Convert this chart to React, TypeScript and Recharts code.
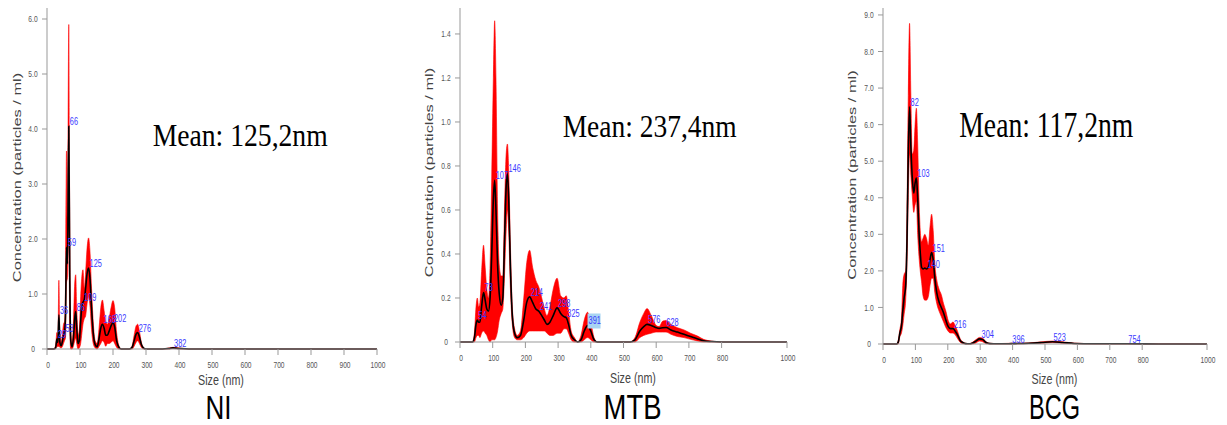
import React from "react";
import { Area, ComposedChart, Line, Scatter, XAxis, YAxis } from "recharts";

// size axis (nm), shared by all three panels
const sizeTicks = [0, 100, 200, 300, 400, 500, 600, 700, 800, 900, 1000];

// NI
const niSize = [0, 20, 26, 30, 33, 36, 39, 43, 47, 50, 53, 56, 59, 62, 66, 69, 72, 76, 80, 84, 87, 90, 94, 98, 102, 106, 109, 113, 117, 121, 126, 130, 135, 140, 146, 152, 158, 163, 168, 173, 178, 183, 188, 194, 200, 205, 211, 218, 225, 250, 258, 264, 270, 275, 280, 286, 292, 300, 350, 370, 382, 400, 430, 600, 800, 1000];
const niMean = [0, 0, 0.02, 0.18, 0.12, 0.62, 0.12, 0.06, 0.15, 0.25, 0.3, 0.6, 1.85, 1.55, 4.05, 1.3, 0.15, 0.04, 0.2, 0.55, 0.68, 0.4, 0.1, 0.15, 0.5, 0.8, 0.85, 0.9, 1.1, 1.35, 1.47, 1.3, 0.75, 0.3, 0.08, 0.04, 0.2, 0.38, 0.45, 0.38, 0.25, 0.25, 0.32, 0.42, 0.48, 0.4, 0.15, 0.03, 0, 0, 0.03, 0.15, 0.27, 0.3, 0.22, 0.08, 0.02, 0, 0, 0.01, 0.02, 0.01, 0, 0, 0, 0];
const niLow = [0, 0, 0, 0.05, 0.04, 0.05, 0.03, 0.02, 0.05, 0.1, 0.15, 0.2, 1.2, 1.3, 2.2, 0.4, 0, 0, 0.05, 0.15, 0.2, 0.1, 0, 0.02, 0.1, 0.3, 0.45, 0.55, 0.6, 0.8, 0.95, 0.8, 0.35, 0.1, 0.02, 0, 0.05, 0.1, 0.15, 0.12, 0.05, 0.1, 0.1, 0.12, 0.15, 0.1, 0.03, 0, 0, 0, 0, 0.05, 0.12, 0.15, 0.1, 0.03, 0, 0, 0, 0, 0.01, 0, 0, 0, 0, 0];
const niHigh = [0, 0, 0.06, 0.3, 0.2, 1.25, 0.3, 0.12, 0.3, 0.45, 0.5, 1.1, 3.6, 2.4, 5.9, 2.2, 0.35, 0.1, 0.45, 1.2, 1.35, 0.8, 0.25, 0.35, 0.95, 1.35, 1.44, 1.1, 1.4, 1.8, 2.02, 1.8, 1.1, 0.5, 0.15, 0.1, 0.4, 0.75, 0.89, 0.7, 0.5, 0.45, 0.55, 0.75, 0.88, 0.75, 0.3, 0.06, 0, 0, 0.06, 0.25, 0.42, 0.45, 0.33, 0.12, 0.03, 0, 0, 0.02, 0.03, 0.02, 0, 0, 0, 0];
const niTicks = [0, 1, 2, 3, 4, 5, 6];
const niPeaks = [
  { size: 30, mean: 0.18, label: "29" },
  { size: 36, mean: 0.62, label: "36" },
  { size: 53, mean: 0.3, label: "53" },
  { size: 60, mean: 1.85, label: "59" },
  { size: 66, mean: 4.05, label: "66" },
  { size: 87, mean: 0.68, label: "86" },
  { size: 109, mean: 0.85, label: "109" },
  { size: 126, mean: 1.47, label: "125" },
  { size: 168, mean: 0.45, label: "168" },
  { size: 200, mean: 0.48, label: "202" },
  { size: 275, mean: 0.3, label: "276" },
  { size: 382, mean: 0.02, label: "382" },
];

// MTB
const mtbSize = [0, 38, 44, 49, 53, 57, 61, 66, 72, 77, 82, 87, 92, 97, 102, 106, 110, 115, 120, 126, 131, 136, 141, 145, 149, 154, 160, 167, 175, 185, 195, 204, 213, 222, 232, 241, 250, 258, 266, 275, 285, 297, 308, 318, 325, 332, 340, 350, 360, 370, 380, 390, 400, 410, 420, 520, 535, 550, 562, 572, 585, 600, 609, 620, 630, 645, 665, 685, 705, 725, 745, 770, 800, 1000];
const mtbMean = [0, 0, 0.02, 0.08, 0.1, 0.09, 0.09, 0.16, 0.225, 0.19, 0.15, 0.14, 0.2, 0.4, 0.65, 0.735, 0.6, 0.35, 0.22, 0.167, 0.2, 0.45, 0.7, 0.766, 0.65, 0.35, 0.12, 0.04, 0.02, 0.03, 0.1, 0.18, 0.205, 0.18, 0.15, 0.14, 0.12, 0.1, 0.08, 0.09, 0.12, 0.155, 0.13, 0.115, 0.11, 0.08, 0.03, 0.01, 0, 0.01, 0.05, 0.075, 0.05, 0.01, 0, 0, 0.01, 0.05, 0.07, 0.08, 0.075, 0.065, 0.062, 0.065, 0.066, 0.055, 0.045, 0.035, 0.025, 0.015, 0.006, 0.002, 0, 0];
const mtbLow = [0, 0, 0, 0.02, 0.03, 0.03, 0.02, 0.04, 0.05, 0.04, 0.03, 0.01, 0, 0.01, 0.01, 0.01, 0.02, 0.05, 0.1, 0.13, 0.15, 0.3, 0.5, 0.6, 0.5, 0.25, 0.08, 0.02, 0.01, 0.01, 0.02, 0.04, 0.05, 0.05, 0.05, 0.05, 0.05, 0.05, 0.04, 0.03, 0.03, 0.04, 0.04, 0.06, 0.06, 0.04, 0.01, 0, 0, 0, 0.01, 0.02, 0.01, 0, 0, 0, 0, 0.02, 0.03, 0.035, 0.04, 0.045, 0.045, 0.045, 0.045, 0.035, 0.025, 0.02, 0.012, 0.005, 0, 0, 0, 0];
const mtbHigh = [0, 0, 0.04, 0.16, 0.2, 0.16, 0.18, 0.32, 0.44, 0.34, 0.24, 0.2, 0.35, 0.75, 1.2, 1.46, 1.2, 0.6, 0.35, 0.3, 0.3, 0.6, 0.85, 0.9, 0.78, 0.45, 0.16, 0.06, 0.03, 0.05, 0.2, 0.36, 0.417, 0.34, 0.28, 0.25, 0.2, 0.15, 0.12, 0.16, 0.24, 0.29, 0.21, 0.2, 0.21, 0.14, 0.05, 0.02, 0, 0.03, 0.1, 0.135, 0.09, 0.02, 0, 0, 0.02, 0.09, 0.13, 0.152, 0.12, 0.075, 0.07, 0.095, 0.098, 0.08, 0.065, 0.055, 0.04, 0.028, 0.012, 0.004, 0, 0];
const mtbTicks = [0, 0.2, 0.4, 0.6, 0.8, 1.0, 1.2, 1.4];
const mtbPeaks = [
  { size: 53, mean: 0.1, label: "54" },
  { size: 72, mean: 0.225, label: "73" },
  { size: 106, mean: 0.735, label: "107" },
  { size: 145, mean: 0.766, label: "146" },
  { size: 213, mean: 0.205, label: "214" },
  { size: 241, mean: 0.14, label: "241" },
  { size: 297, mean: 0.155, label: "298" },
  { size: 325, mean: 0.11, label: "325" },
  { size: 390, mean: 0.075, label: "391" },
  { size: 572, mean: 0.08, label: "576" },
  { size: 628, mean: 0.066, label: "628" },
];
const mtbSelected = "391";

// BCG
const bcgSize = [0, 42, 47, 52, 57, 61, 65, 70, 74, 78, 82, 86, 90, 95, 99, 103, 107, 111, 115, 119, 124, 129, 134, 140, 145, 150, 155, 160, 166, 173, 180, 187, 194, 201, 208, 216, 223, 230, 238, 246, 255, 265, 275, 287, 298, 308, 318, 330, 350, 396, 450, 490, 523, 555, 590, 650, 754, 850, 1000];
const bcgMean = [0, 0, 0.05, 0.3, 0.5, 0.9, 1.25, 1.6, 2.8, 5.2, 6.49, 5.4, 4.6, 4.13, 4.4, 4.54, 4.0, 3.1, 2.5, 2.1, 2.05, 2.08, 2.05, 2.1, 2.3, 2.5, 2.3, 1.8, 1.4, 1.15, 1.0, 0.85, 0.65, 0.48, 0.42, 0.42, 0.35, 0.25, 0.1, 0.04, 0.01, 0.005, 0.02, 0.08, 0.14, 0.12, 0.04, 0.01, 0.005, 0.01, 0.02, 0.04, 0.06, 0.04, 0.015, 0.005, 0.005, 0.002, 0];
const bcgLow = [0, 0, 0, 0.2, 0.3, 0.5, 0.8, 1.2, 2.2, 4.0, 5.2, 4.6, 4.1, 3.6, 3.8, 3.9, 3.0, 2.4, 2.0, 1.7, 1.3, 1.2, 1.2, 1.3, 1.6, 1.8, 1.8, 1.4, 1.1, 0.9, 0.75, 0.6, 0.45, 0.35, 0.3, 0.3, 0.25, 0.15, 0.05, 0.01, 0, 0, 0, 0.03, 0.08, 0.06, 0.01, 0, 0, 0, 0.01, 0.02, 0.04, 0.02, 0.005, 0, 0, 0, 0];
const bcgHigh = [0, 0, 0.1, 0.4, 0.7, 1.6, 1.9, 2.0, 3.6, 6.8, 8.77, 6.8, 5.2, 5.3, 6.0, 6.45, 5.5, 4.0, 3.1, 2.8, 2.9, 3.0, 2.9, 2.7, 3.2, 3.55, 3.1, 2.2, 1.75, 1.5, 1.35, 1.1, 0.9, 0.65, 0.55, 0.6, 0.5, 0.35, 0.15, 0.06, 0.02, 0.01, 0.04, 0.12, 0.18, 0.16, 0.06, 0.02, 0.01, 0.02, 0.03, 0.06, 0.08, 0.06, 0.025, 0.01, 0.01, 0.004, 0];
const bcgTicks = [0, 1, 2, 3, 4, 5, 6, 7, 8, 9];
const bcgPeaks = [
  { size: 82, mean: 6.49, label: "82" },
  { size: 103, mean: 4.54, label: "103" },
  { size: 134, mean: 2.05, label: "140" },
  { size: 150, mean: 2.5, label: "151" },
  { size: 216, mean: 0.42, label: "216" },
  { size: 301, mean: 0.14, label: "304" },
  { size: 396, mean: 0.01, label: "396" },
  { size: 523, mean: 0.06, label: "523" },
  { size: 754, mean: 0.005, label: "754" },
];

const SQ = 0.74;
const SANS = "'Liberation Sans', Arial, sans-serif";
const SERIF = "'Liberation Serif', 'Times New Roman', serif";

function buildRows(size: number[], mean: number[], low: number[], high: number[]) {
  return size.map((s, i) => ({ size: s, mean: mean[i], band: [low[i], high[i]] }));
}

const fmtY = (v: number) => (v === 0 ? "0" : v.toFixed(1));

function YTick(props: any) {
  const { x, y, payload } = props;
  return (
    <text transform={`translate(${x - 7},${y}) scale(${SQ},1)`} textAnchor="middle" dy="0.35em" fontSize={9} fontFamily={SANS} fill="#555">
      {fmtY(payload.value)}
    </text>
  );
}

function XTick(props: any) {
  const { x, y, payload } = props;
  return (
    <text transform={`translate(${x + 1},${y}) scale(${SQ},1)`} textAnchor="middle" dy="0.71em" fontSize={9} fontFamily={SANS} fill="#555">
      {payload.value}
    </text>
  );
}

type PanelProps = {
  left: number;
  width: number;
  axisW: number;
  right: number;
  bottom: number;
  yMax: number;
  yTicks: number[];
  rows: any[];
  peaks: { size: number; mean: number; label: string }[];
  selected?: string;
  yLabel: [number, number];
  sizeLabel: [number, number];
  mean: { text: string; x: number; y: number; fs: number; len: number };
  name: { text: string; x: number; y: number; fs: number; len: number };
};

function Panel(p: PanelProps) {
  const H = 425;
  const peakShape = (s: any) => {
    const lbl = s.payload.label;
    return (
      <g>
        {lbl === p.selected && <rect x={s.cx} y={s.cy - 12} width={13} height={15} fill="#a8d4f2" />}
        <text transform={`translate(${s.cx + 1},${s.cy - 1}) scale(${SQ},1)`} fontSize={10} fontFamily={SANS} fill="#3a3aff">
          {lbl}
        </text>
      </g>
    );
  };
  return (
    <div style={{ position: "absolute", left: p.left, top: 0, width: p.width, height: H }}>
      <ComposedChart width={p.width} height={H} data={p.rows} margin={{ top: 8, right: p.right, bottom: p.bottom, left: 0 }}>
        <XAxis
          dataKey="size"
          type="number"
          domain={[0, 1000]}
          ticks={sizeTicks}
          height={20}
          tickSize={6}
          tickMargin={7}
          axisLine={{ stroke: "#999" }}
          tickLine={{ stroke: "#999" }}
          tick={XTick}
        />
        <YAxis
          type="number"
          domain={[0, p.yMax]}
          ticks={p.yTicks}
          width={p.axisW}
          tickSize={5}
          tickMargin={2}
          axisLine={{ stroke: "#999" }}
          tickLine={{ stroke: "#999" }}
          tick={YTick}
        />
        <Area dataKey="band" type="monotone" fill="#ff0000" fillOpacity={1} stroke="#ff0000" strokeWidth={0.6} isAnimationActive={false} />
        <Line dataKey="mean" type="monotone" stroke="#000" strokeWidth={1.6} dot={false} isAnimationActive={false} />
        <Scatter data={p.peaks} dataKey="mean" shape={peakShape} isAnimationActive={false} />
      </ComposedChart>
      <svg width={p.width} height={H} style={{ position: "absolute", left: 0, top: 0, pointerEvents: "none" }}>
        <text
          transform={`translate(${p.yLabel[0]},${p.yLabel[1]}) scale(0.72,1) rotate(-90)`}
          textAnchor="middle"
          dominantBaseline="central"
          fontSize={16.4}
          fontFamily={SANS}
          fill="#444"
        >
          Concentration (particles / ml)
        </text>
        <text transform={`translate(${p.sizeLabel[0]},${p.sizeLabel[1]}) scale(${SQ},1)`} textAnchor="middle" fontSize={14.5} fontFamily={SANS} fill="#444">
          Size (nm)
        </text>
        <text x={p.mean.x} y={p.mean.y} fontSize={p.mean.fs} fontFamily={SERIF} fill="#000" textLength={p.mean.len} lengthAdjust="spacingAndGlyphs">
          {p.mean.text}
        </text>
        <text
          x={p.name.x - p.name.len / 2}
          y={p.name.y}
          fontSize={p.name.fs}
          fontFamily={SANS}
          fill="#000"
          textLength={p.name.len}
          lengthAdjust="spacingAndGlyphs"
        >
          {p.name.text}
        </text>
      </svg>
    </div>
  );
}

export default function App() {
  return (
    <div style={{ position: "absolute", left: 0, top: 0, width: 1227, height: 425, background: "#fff" }}>
      <Panel
        left={0}
        width={400}
        axisW={47}
        right={23}
        bottom={56}
        yMax={6.2}
        yTicks={niTicks}
        rows={buildRows(niSize, niMean, niLow, niHigh)}
        peaks={niPeaks}
        yLabel={[16.7, 177.5]}
        sizeLabel={[221, 385]}
        mean={{ text: "Mean: 125,2nm", x: 152.7, y: 146, fs: 31, len: 175 }}
        name={{ text: "NI", x: 218.5, y: 419, fs: 34, len: 26 }}
      />
      <Panel
        left={410}
        width={400}
        axisW={50}
        right={23}
        bottom={63}
        yMax={1.518}
        yTicks={mtbTicks}
        rows={buildRows(mtbSize, mtbMean, mtbLow, mtbHigh)}
        peaks={mtbPeaks}
        selected={mtbSelected}
        yLabel={[19, 172.5]}
        sizeLabel={[223, 383]}
        mean={{ text: "Mean: 237,4nm", x: 152.7, y: 137, fs: 32, len: 174 }}
        name={{ text: "MTB", x: 222.5, y: 419, fs: 35, len: 58 }}
      />
      <Panel
        left={830}
        width={397}
        axisW={53}
        right={20}
        bottom={61}
        yMax={9.19}
        yTicks={bcgTicks}
        rows={buildRows(bcgSize, bcgMean, bcgLow, bcgHigh)}
        peaks={bcgPeaks}
        yLabel={[22, 175]}
        sizeLabel={[224.5, 384]}
        mean={{ text: "Mean: 117,2nm", x: 129.3, y: 137, fs: 36, len: 174 }}
        name={{ text: "BCG", x: 224.5, y: 419, fs: 35, len: 51 }}
      />
    </div>
  );
}
